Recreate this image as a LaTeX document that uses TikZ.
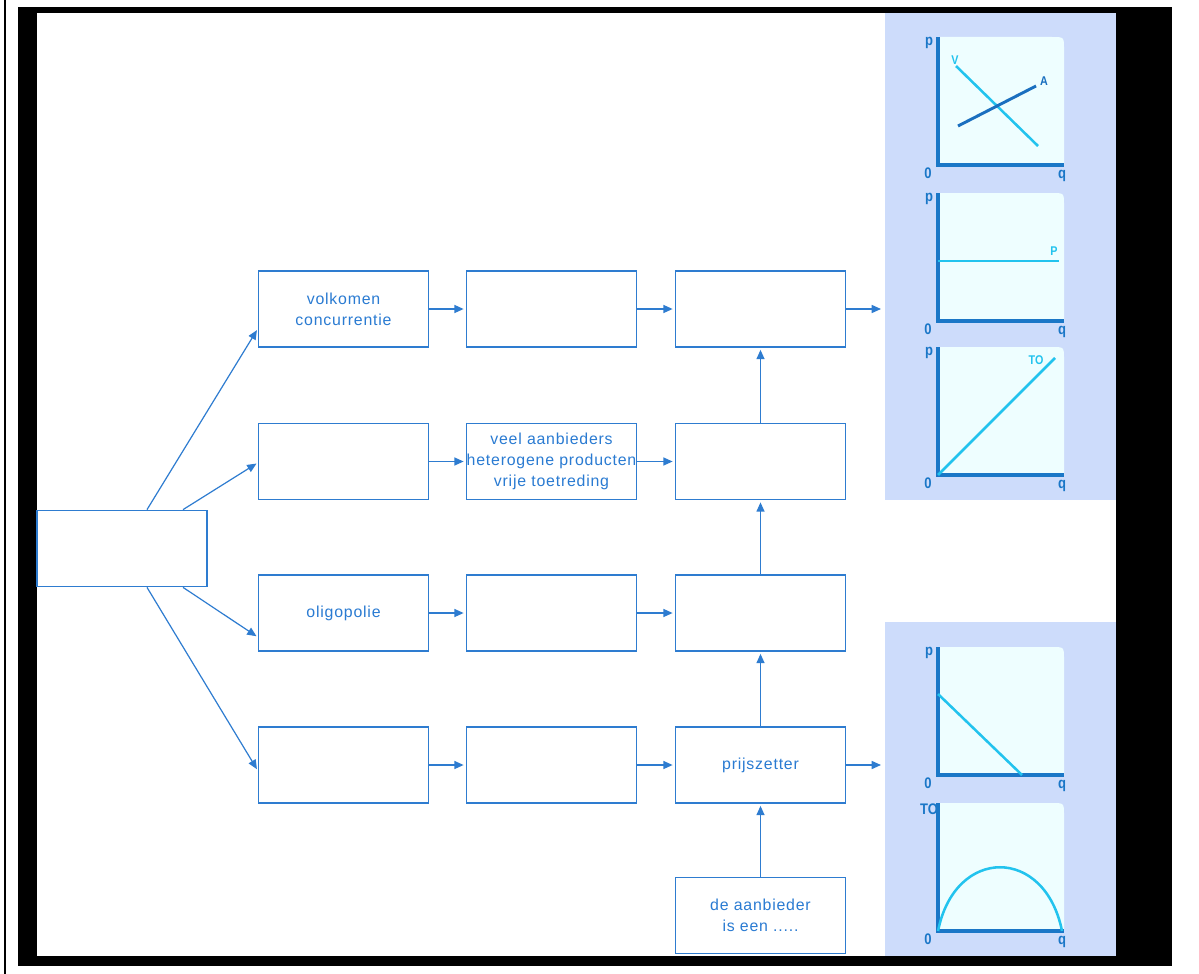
\documentclass[tikz,border=0pt]{standalone}
\usepackage{fontspec}
\setmainfont{Liberation Sans}[LetterSpace=5]
\newfontfamily\glab{Liberation Sans}[FakeStretch=0.85]
\usetikzlibrary{arrows.meta,calc}

\definecolor{boxblue}{HTML}{2E7CD0}
\definecolor{txtblue}{HTML}{2A7BD2}
\definecolor{panel}{HTML}{CDDCFB}
\definecolor{plotbg}{HTML}{EEFEFF}
\definecolor{axis}{HTML}{1A77C7}
\definecolor{cyanline}{HTML}{22C3EE}
\definecolor{darkline}{HTML}{1A6FBF}

\tikzset{
  stage/.style={draw=boxblue, line width=1.3pt, fill=white,
    minimum width=127.5pt, minimum height=57pt, inner sep=0pt,
    align=center, text=txtblue, font=\fontsize{11.9}{16}\selectfont},
  flow/.style={draw=boxblue, line width=1.1pt,
    -{Triangle[length=7pt,width=6pt]}, shorten >=1.5pt},
  link/.style={draw=boxblue, line width=0.9pt,
    -{Triangle[length=7pt,width=6pt]}, shorten >=1pt},
  axisline/.style={draw=axis, line width=2.3pt},
  glabel/.style={text=axis, font=\glab\bfseries\fontsize{11.5}{11.5}\selectfont, inner sep=0pt},
  clabel/.style={font=\glab\bfseries\fontsize{9.5}{9.5}\selectfont, inner sep=0pt}
}

% one small diagram: top edge T, axis at bottom B
\newcommand{\plotframe}[3]{%
  \fill[plotbg] (938,#2) -- (938,#1) -- (1052,#1) .. controls (1064,#1) .. (1064,#1+12) -- (1064,#2) -- cycle;
  \draw[axisline] (938,#1) -- (938,#2) -- (1064,#2);
  \node[glabel] at (929,#1+6) {#3};
  \node[glabel] at (928,#2+8) {0};
  \node[glabel] at (1062,#2+11) {q};
}

\begin{document}
\begin{tikzpicture}[x=0.75pt, y=-0.75pt]
\useasboundingbox (0,0) rectangle (1199,974);

% frame
\fill[black] (3.5,0) rectangle (5.5,974);
\fill[black] (18,7) rectangle (1172,966);
\fill[white] (37,13) rectangle (1116,956);

% side panels with the diagrams
\fill[panel] (885,13) rectangle (1116,500);
\fill[panel] (885,622) rectangle (1116,956);

\plotframe{37}{165}{p}
\draw[cyanline, line width=1.9pt] (956,66) -- (1038,146);
\draw[darkline, line width=2.2pt] (958,126) -- (1036,86);
\node[clabel, text=cyanline] at (955,60) {V};
\node[clabel, text=darkline] at (1044,81) {A};

\plotframe{193}{321}{p}
\draw[cyanline, line width=1.9pt] (938,261) -- (1059,261);
\node[clabel, text=cyanline] at (1054,251) {P};

\plotframe{347}{475}{p}
\draw[cyanline, line width=1.9pt] (938,475) -- (1055,358);
\node[clabel, text=cyanline] at (1036,360) {TO};

\plotframe{647}{775}{p}
\draw[cyanline, line width=1.9pt] (938,694) -- (1022,775);

\plotframe{803}{931}{TO}
\draw[cyanline, line width=1.9pt] (938,931) .. controls (955,846) and (1045,846) .. (1062,931);

% boxes
\node[stage] (L) at (122,548.5) {};

\node[stage] (a1) at (343.5,309) {volkomen\\concurrentie};
\node[stage] (a2) at (343.5,461.5) {};
\node[stage] (a3) at (343.5,613) {oligopolie};
\node[stage] (a4) at (343.5,765) {};

\node[stage] (b1) at (551.5,309) {};
\node[stage] (b2) at (551.5,461.5) {veel aanbieders\\heterogene producten\\vrije toetreding};
\node[stage] (b3) at (551.5,613) {};
\node[stage] (b4) at (551.5,765) {};

\node[stage] (c1) at (760.5,309) {};
\node[stage] (c2) at (760.5,461.5) {};
\node[stage] (c3) at (760.5,613) {};
\node[stage] (c4) at (760.5,765) {prijszetter};
\node[stage] (d) at (760.5,915.5) {de aanbieder\\is een .....};

\coordinate (o1) at (883,309);
\coordinate (o4) at (883,765);

% branches from the left box
\draw[link] ([xshift=18.75pt]L.north) -- ([yshift=-15pt]a1.west);
\draw[link] ([xshift=45.75pt]L.north) -- ([yshift=-1pt]a2.west);
\draw[link] ([xshift=45.75pt]L.south) -- ([yshift=-18pt]a3.west);
\draw[link] ([xshift=18.75pt]L.south) -- ([yshift=-4pt]a4.west);

% rows
\foreach \r in {1,2,3,4} {
  \draw[flow] (a\r) -- (b\r);
  \draw[flow] (b\r) -- (c\r);
}
\draw[flow] (c1.east) -- (o1);
\draw[flow] (c4.east) -- (o4);

% upward chain
\draw[flow] (d) -- (c4);
\draw[flow] (c4) -- (c3);
\draw[flow] (c3) -- (c2);
\draw[flow] (c2) -- (c1);
\end{tikzpicture}
\end{document}
